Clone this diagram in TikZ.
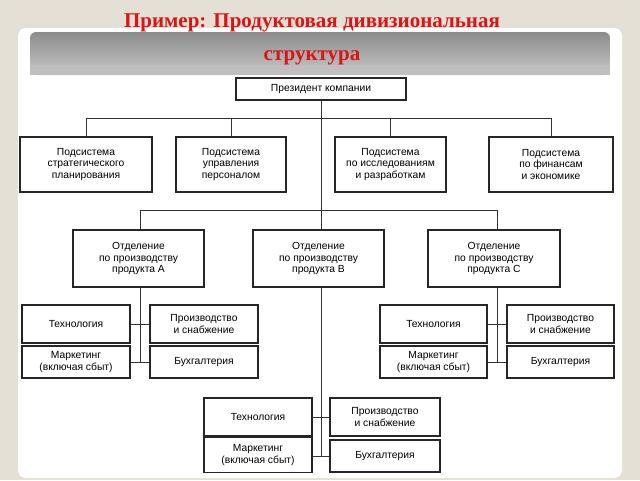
\documentclass[tikz,border=0pt]{standalone}
\usepackage{fontspec}
\setmainfont{Liberation Sans}
\newfontfamily\titlefont{Liberation Serif}
\begin{document}
\begin{tikzpicture}[x=1pt,y=-1pt,
  bx/.style={draw=black!85,line width=1.1pt,fill=white,align=center,inner sep=1pt,font=\fontsize{10.3}{11.6}\selectfont},
  ln/.style={draw=black!80,line width=0.7pt}]
\useasboundingbox (0,0) rectangle (640,480);
\fill[fill={rgb,255:red,229;green,224;blue,214}] (0,0) rectangle (640,480);
\fill[white,rounded corners=8pt] (18,28) rectangle (622,478);
\shade[top color=black!45,bottom color=black!22,rounded corners=6pt] (30,32) rectangle (610,75);
\fill[black!25] (30,65) rectangle (610,75);
\node[text={rgb,255:red,220;green,20;blue,20},font=\titlefont\bfseries\fontsize{21}{33}\selectfont,align=center] (t) at (312,39) {Пример: Продуктовая дивизиональная\\структура};
\newcommand{\bxat}[5]{\node[bx,minimum width=#3pt,minimum height=#4pt] (#1) at (#2) {#5};}
\bxat{p}{321,89}{170}{22}{Президент компании}
\bxat{s1}{86,164.5}{132}{55}{Подсистема\\стратегического\\планирования}
\bxat{s2}{231,164.5}{110}{55}{Подсистема\\управления\\персоналом}
\bxat{s3}{390.5,164.5}{111}{55}{Подсистема\\по исследованиям\\и разработкам}
\bxat{s4}{551,164.5}{124}{55}{Подсистема\\по финансам\\и экономике}
\bxat{A}{138.5,258.5}{131}{57}{Отделение\\по производству\\продукта А}
\bxat{B}{318.5,258.5}{131}{57}{Отделение\\по производству\\продукта В}
\bxat{C}{494,258.5}{132}{57}{Отделение\\по производству\\продукта С}
\bxat{at}{76,324}{108}{38}{Технология}
\bxat{am}{76,362}{108}{32}{Маркетинг\\(включая сбыт)}
\bxat{ap}{204,324}{108}{38}{Производство\\и снабжение}
\bxat{ab}{204,362}{108}{32}{Бухгалтерия}
\bxat{ct}{433.5,324}{107}{38}{Технология}
\bxat{cm}{433.5,362}{107}{32}{Маркетинг\\(включая сбыт)}
\bxat{cp}{560.5,324}{107}{38}{Производство\\и снабжение}
\bxat{cb}{560.5,362}{107}{32}{Бухгалтерия}
\bxat{bt}{258,417}{108}{38}{Технология}
\bxat{bm}{258,455}{108}{35}{Маркетинг\\(включая сбыт)}
\bxat{bp}{385,417}{110}{38}{Производство\\и снабжение}
\bxat{bb}{385,456}{110}{32}{Бухгалтерия}
\coordinate (bus1l) at (86,118); \coordinate (bus1r) at (551,118);
\coordinate (bus2l) at (140,210); \coordinate (bus2r) at (497,210);
\draw[ln] (p.south) -- (321,210);
\draw[ln] (s1.north) -- (bus1l) -- (bus1r) -- (s4.north);
\draw[ln] (s2.north) -- (231,118);
\draw[ln] (s3.north) -- (390.5,118);
\draw[ln] (A.north -| bus2l) -- (bus2l) -- (bus2r) -- (C.north -| bus2r);
\draw[ln] (321,210) -- (B.north -| 321,0);
\draw[ln] (A.south -| 140,0) -- (140,362);
\draw[ln] (at.east) -- (ap.west); \draw[ln] (am.east) -- (ab.west);
\draw[ln] (C.south -| 497,0) -- (497,362);
\draw[ln] (ct.east) -- (cp.west); \draw[ln] (cm.east) -- (cb.west);
\draw[ln,line width=1pt] (B.south -| 321,0) -- (321,456);
\draw[ln,line width=1pt] (bt.east) -- (bp.west); \draw[ln,line width=1pt] (bm.east |- 321,456) -- (bb.west);
\end{tikzpicture}
\end{document}
